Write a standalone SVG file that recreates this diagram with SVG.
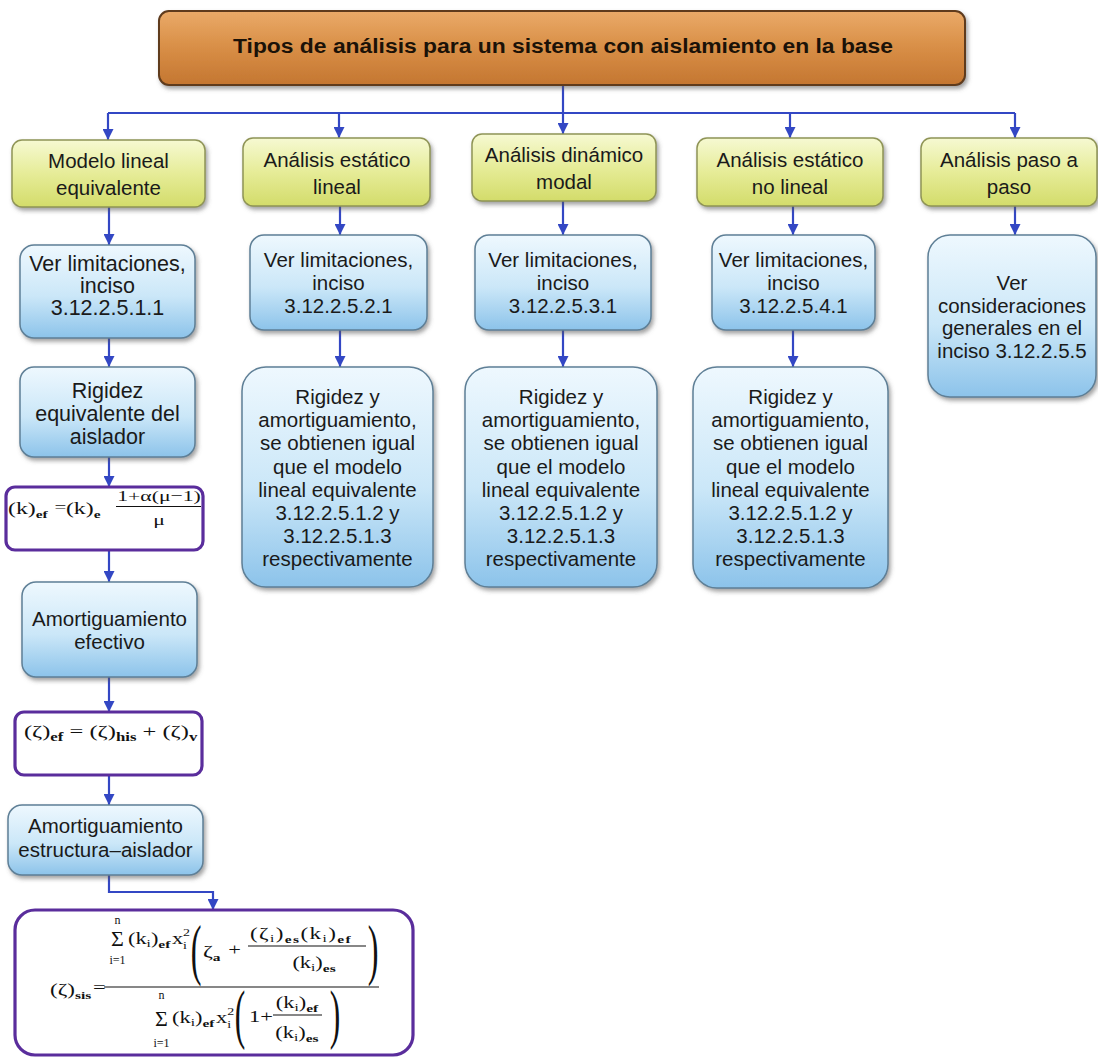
<svg xmlns="http://www.w3.org/2000/svg" width="1098" height="1059" viewBox="0 0 1098 1059">
<defs>
<style>
.t{font-family:"Liberation Sans",Arial,sans-serif;font-size:20.5px;fill:#1a1a1a;text-anchor:middle}
.tt{font-family:"Liberation Sans",Arial,sans-serif;font-size:20px;font-weight:bold;fill:#1b1208;text-anchor:middle}
.m{font-family:"Liberation Serif","Times New Roman",serif;fill:#111}
.sb{font-weight:bold;font-size:12px}
.sb2{font-weight:bold;font-size:11px}
.si{font-size:11px}
.yb{fill:url(#gy);stroke:#8f9456;stroke-width:1.5;filter:url(#sh)}
.bb{fill:url(#gb);stroke:#5e7f96;stroke-width:1.5;filter:url(#sh)}
.pb{fill:#fff;stroke:#5a2d9c;stroke-width:3.2}
.cn{fill:none;stroke:#3347c4;stroke-width:2.2}
.bar{stroke:#111;stroke-width:1.1}
</style>
<linearGradient id="gy" x1="0" y1="0" x2="0" y2="1">
<stop offset="0" stop-color="#f6f9d2"/><stop offset="0.5" stop-color="#e6ec98"/><stop offset="1" stop-color="#d3dc6a"/>
</linearGradient>
<linearGradient id="gb" x1="0" y1="0" x2="0" y2="1">
<stop offset="0" stop-color="#eef8fe"/><stop offset="0.55" stop-color="#cbe7f8"/><stop offset="1" stop-color="#8cc3ea"/>
</linearGradient>
<linearGradient id="go" x1="0" y1="0" x2="0" y2="1">
<stop offset="0" stop-color="#eaaa68"/><stop offset="0.5" stop-color="#d88e46"/><stop offset="1" stop-color="#c47631"/>
</linearGradient>
<filter id="sh" x="-10%" y="-10%" width="125%" height="135%">
<feDropShadow dx="2" dy="3" stdDeviation="2" flood-color="#555" flood-opacity="0.55"/>
</filter>
<marker id="ah" viewBox="0 0 10 10" refX="10" refY="5" markerWidth="11" markerHeight="11" markerUnits="userSpaceOnUse" orient="auto">
<path d="M0,0 L10,5 L0,10 z" fill="#3347c4"/>
</marker>
</defs>

<g id="connectors">
<path class="cn" d="M563,85 V113"/>
<path class="cn" d="M108,113 H1015"/>
<path class="cn" d="M108,113 V140" marker-end="url(#ah)"/>
<path class="cn" d="M339,113 V138" marker-end="url(#ah)"/>
<path class="cn" d="M563,113 V134" marker-end="url(#ah)"/>
<path class="cn" d="M790,113 V138" marker-end="url(#ah)"/>
<path class="cn" d="M1015,113 V138" marker-end="url(#ah)"/>
<path class="cn" d="M109,207 V245" marker-end="url(#ah)"/>
<path class="cn" d="M109,338 V367" marker-end="url(#ah)"/>
<path class="cn" d="M109,457 V487" marker-end="url(#ah)"/>
<path class="cn" d="M109,550 V582" marker-end="url(#ah)"/>
<path class="cn" d="M109,677 V712" marker-end="url(#ah)"/>
<path class="cn" d="M109,775 V805" marker-end="url(#ah)"/>
<path class="cn" d="M109,875 V892 H213 V910" marker-end="url(#ah)"/>
<path class="cn" d="M340,206 V235" marker-end="url(#ah)"/>
<path class="cn" d="M340,330 V367" marker-end="url(#ah)"/>
<path class="cn" d="M563,201 V235" marker-end="url(#ah)"/>
<path class="cn" d="M563,330 V367" marker-end="url(#ah)"/>
<path class="cn" d="M793,206 V235" marker-end="url(#ah)"/>
<path class="cn" d="M793,330 V367" marker-end="url(#ah)"/>
<path class="cn" d="M1015,206 V235" marker-end="url(#ah)"/>
</g>

<g id="title">
<rect x="159" y="11" width="806" height="74" rx="10" fill="url(#go)" stroke="#5e3a1a" stroke-width="2" filter="url(#sh)"/>
<text class="tt" x="563" y="53" textLength="660" lengthAdjust="spacingAndGlyphs">Tipos de análisis para un sistema con aislamiento en la base</text>
</g>

<g id="modelo-lineal">
<rect class="yb" x="12" y="140" width="193" height="67" rx="10"/>
<text class="t"><tspan x="108.5" y="168">Modelo lineal</tspan><tspan x="108.5" y="195">equivalente</tspan></text>
</g>
<g id="estatico-lineal">
<rect class="yb" x="243" y="138" width="187" height="68" rx="10"/>
<text class="t"><tspan x="337" y="167">Análisis estático</tspan><tspan x="337" y="194">lineal</tspan></text>
</g>
<g id="dinamico-modal">
<rect class="yb" x="472" y="134" width="184" height="67" rx="10"/>
<text class="t"><tspan x="564" y="162">Análisis dinámico</tspan><tspan x="564" y="189">modal</tspan></text>
</g>
<g id="estatico-no-lineal">
<rect class="yb" x="697" y="138" width="186" height="68" rx="10"/>
<text class="t"><tspan x="790" y="167">Análisis estático</tspan><tspan x="790" y="194">no lineal</tspan></text>
</g>
<g id="paso-a-paso">
<rect class="yb" x="921" y="138" width="176" height="68" rx="10"/>
<text class="t"><tspan x="1009" y="167">Análisis paso a</tspan><tspan x="1009" y="194">paso</tspan></text>
</g>

<g id="lim-1">
<rect class="bb" x="20" y="245" width="175" height="93" rx="14"/>
<text class="t" style="font-size:21.5px"><tspan x="107.5" y="271">Ver limitaciones,</tspan><tspan x="107.5" y="293">inciso</tspan><tspan x="107.5" y="315">3.12.2.5.1.1</tspan></text>
</g>
<g id="lim-2">
<rect class="bb" x="250" y="235" width="177" height="95" rx="14"/>
<text class="t"><tspan x="338.5" y="267">Ver limitaciones,</tspan><tspan x="338.5" y="290">inciso</tspan><tspan x="338.5" y="313">3.12.2.5.2.1</tspan></text>
</g>
<g id="lim-3">
<rect class="bb" x="475" y="235" width="176" height="95" rx="14"/>
<text class="t"><tspan x="563" y="267">Ver limitaciones,</tspan><tspan x="563" y="290">inciso</tspan><tspan x="563" y="313">3.12.2.5.3.1</tspan></text>
</g>
<g id="lim-4">
<rect class="bb" x="712" y="235" width="163" height="95" rx="14"/>
<text class="t"><tspan x="793.5" y="267">Ver limitaciones,</tspan><tspan x="793.5" y="290">inciso</tspan><tspan x="793.5" y="313">3.12.2.5.4.1</tspan></text>
</g>
<g id="consideraciones">
<rect class="bb" x="928" y="235" width="168" height="162" rx="22"/>
<text class="t"><tspan x="1012" y="290">Ver</tspan><tspan x="1012" y="313">consideraciones</tspan><tspan x="1012" y="335">generales en el</tspan><tspan x="1012" y="358">inciso 3.12.2.5.5</tspan></text>
</g>

<g id="rig-amort-2">
<rect class="bb" x="242" y="367" width="191" height="220" rx="24"/>
<text class="t"><tspan x="337.5" y="404">Rigidez y</tspan><tspan x="337.5" y="427">amortiguamiento,</tspan><tspan x="337.5" y="450">se obtienen igual</tspan><tspan x="337.5" y="474">que el modelo</tspan><tspan x="337.5" y="497">lineal equivalente</tspan><tspan x="337.5" y="520">3.12.2.5.1.2 y</tspan><tspan x="337.5" y="543">3.12.2.5.1.3</tspan><tspan x="337.5" y="566">respectivamente</tspan></text>
</g>
<g id="rig-amort-3">
<rect class="bb" x="465" y="367" width="192" height="220" rx="24"/>
<text class="t"><tspan x="561" y="404">Rigidez y</tspan><tspan x="561" y="427">amortiguamiento,</tspan><tspan x="561" y="450">se obtienen igual</tspan><tspan x="561" y="474">que el modelo</tspan><tspan x="561" y="497">lineal equivalente</tspan><tspan x="561" y="520">3.12.2.5.1.2 y</tspan><tspan x="561" y="543">3.12.2.5.1.3</tspan><tspan x="561" y="566">respectivamente</tspan></text>
</g>
<g id="rig-amort-4">
<rect class="bb" x="693" y="367" width="195" height="221" rx="24"/>
<text class="t"><tspan x="790.5" y="404">Rigidez y</tspan><tspan x="790.5" y="427">amortiguamiento,</tspan><tspan x="790.5" y="450">se obtienen igual</tspan><tspan x="790.5" y="474">que el modelo</tspan><tspan x="790.5" y="497">lineal equivalente</tspan><tspan x="790.5" y="520">3.12.2.5.1.2 y</tspan><tspan x="790.5" y="543">3.12.2.5.1.3</tspan><tspan x="790.5" y="566">respectivamente</tspan></text>
</g>

<g id="rigidez-equivalente">
<rect class="bb" x="20" y="367" width="175" height="90" rx="14"/>
<text class="t" style="font-size:21.5px"><tspan x="107.5" y="398">Rigidez</tspan><tspan x="107.5" y="421">equivalente del</tspan><tspan x="107.5" y="444">aislador</tspan></text>
</g>

<g id="formula-k">
<rect class="pb" x="6" y="487" width="197" height="63" rx="9"/>
<line class="bar" x1="116" y1="506.5" x2="201" y2="506.5"/>
<g class="m" transform="scale(1.4 1)">
<text x="5.7" y="514" font-size="17">(k)<tspan class="sb2" dy="4">ef</tspan></text>
<text x="43.2" y="512" font-size="15" text-anchor="middle">=</text>
<text x="47.1" y="514" font-size="17">(k)<tspan class="sb2" dy="4">e</tspan></text>
<text x="113.6" y="501" font-size="15.5" text-anchor="middle">1+α(μ−1)</text>
<text x="113.6" y="525" font-size="15.5" text-anchor="middle">μ</text>
</g>
</g>

<g id="amort-efectivo">
<rect class="bb" x="22" y="582" width="175" height="95" rx="14"/>
<text class="t"><tspan x="109.5" y="626">Amortiguamiento</tspan><tspan x="109.5" y="649">efectivo</tspan></text>
</g>

<g id="formula-zeta-ef">
<rect class="pb" x="15" y="712" width="187" height="63" rx="9"/>
<g class="m" transform="scale(1.4 1)">
<text x="17.1" y="737" font-size="17.5">(ζ)<tspan class="sb" dy="4">ef</tspan><tspan dy="-4"> = (ζ)</tspan><tspan class="sb" dy="4">his</tspan><tspan dy="-4"> + (ζ)</tspan><tspan class="sb" dy="4">v</tspan></text>
</g>
</g>

<g id="amort-estructura">
<rect class="bb" x="8" y="805" width="195" height="70" rx="14"/>
<text class="t"><tspan x="105.5" y="833">Amortiguamiento</tspan><tspan x="105.5" y="857">estructura–aislador</tspan></text>
</g>

<g id="formula-zeta-sis">
<rect class="pb" x="15" y="910" width="398" height="145" rx="20"/>
<line class="bar" x1="104" y1="987" x2="379" y2="987"/>
<line class="bar" x1="248" y1="946" x2="366" y2="946"/>
<line class="bar" x1="273" y1="1015" x2="322" y2="1015"/>
<g class="m" text-anchor="middle">
<text x="117.5" y="924" font-size="12">n</text>
<text x="117.5" y="946" font-size="22">Σ</text>
<text x="117.5" y="964" font-size="12">i=1</text>
<text x="161.5" y="999" font-size="12">n</text>
<text x="161.5" y="1026" font-size="22">Σ</text>
<text x="161.5" y="1047" font-size="12">i=1</text>
</g>
<g class="m" transform="scale(1.4 1)">
<text x="35.7" y="995" font-size="16.5">(ζ)<tspan class="sb2" dy="4">sis</tspan></text>
<text x="71" y="993" font-size="16" text-anchor="middle">=</text>
<text x="91.4" y="944" font-size="16">(k<tspan class="si" dy="3">i</tspan><tspan dy="-3">)</tspan><tspan class="sb2" dy="4">ef</tspan></text>
<text x="122.8" y="944" font-size="16">x</text>
<text x="130.8" y="936" font-size="10">2</text>
<text x="130.8" y="949" font-size="10">i</text>
<text x="145" y="957" font-size="17">ζ<tspan class="sb2" dy="4">a</tspan></text>
<text x="167.6" y="955" font-size="16" text-anchor="middle">+</text>
<text x="178.6" y="939" font-size="16.5" letter-spacing="1">(ζ<tspan class="si" dy="3">i</tspan><tspan dy="-3">)</tspan><tspan class="sb2" dy="4">es</tspan><tspan dy="-4">(k</tspan><tspan class="si" dy="3">i</tspan><tspan dy="-3">)</tspan><tspan class="sb2" dy="4">ef</tspan></text>
<text x="224.3" y="968" font-size="16" text-anchor="middle">(k<tspan class="si" dy="3">i</tspan><tspan dy="-3">)</tspan><tspan class="sb2" dy="4">es</tspan></text>
<text x="122.9" y="1023" font-size="16">(k<tspan class="si" dy="3">i</tspan><tspan dy="-3">)</tspan><tspan class="sb2" dy="4">ef</tspan></text>
<text x="154.3" y="1023" font-size="16">x</text>
<text x="162.3" y="1015" font-size="10">2</text>
<text x="162.3" y="1028" font-size="10">i</text>
<text x="177.9" y="1022" font-size="16">1+</text>
<text x="212.1" y="1008" font-size="16" text-anchor="middle">(k<tspan class="si" dy="3">i</tspan><tspan dy="-3">)</tspan><tspan class="sb2" dy="4">ef</tspan></text>
<text x="212.1" y="1038" font-size="16" text-anchor="middle">(k<tspan class="si" dy="3">i</tspan><tspan dy="-3">)</tspan><tspan class="sb2" dy="4">es</tspan></text>
</g>
<g class="m" text-anchor="middle">
<text transform="translate(196 972) scale(0.7 1.45)" font-size="46">(</text>
<text transform="translate(373 972) scale(0.7 1.45)" font-size="46">)</text>
<text transform="translate(240 1036) scale(0.7 1.45)" font-size="45">(</text>
<text transform="translate(335 1036) scale(0.7 1.45)" font-size="45">)</text>
</g>
</g>
</svg>
